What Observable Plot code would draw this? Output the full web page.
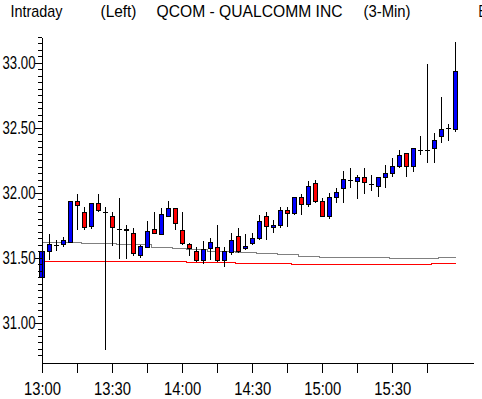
<!DOCTYPE html>
<html>
<head>
<meta charset="utf-8">
<script src="https://cdn.jsdelivr.net/npm/d3@7"></script>
<script src="https://cdn.jsdelivr.net/npm/@observablehq/plot@0.6"></script>
<style>
  html, body { margin: 0; padding: 0; background: #fff; }
  #chart svg { display: block; shape-rendering: crispEdges; }
</style>
</head>
<body>
<div id="chart"></div>
<script>
// ---- data ----
const barTimes = [
  "13:00","13:03","13:06","13:09","13:12","13:15","13:18","13:21","13:24","13:27",
  "13:30","13:33","13:36","13:39","13:42","13:45","13:48","13:51","13:54","13:57",
  "14:00","14:03","14:06","14:09","14:12","14:15","14:18","14:21","14:24","14:27",
  "14:30","14:33","14:36","14:39","14:42","14:45","14:48","14:51","14:54","14:57",
  "15:00","15:03","15:06","15:09","15:12","15:15","15:18","15:21","15:24","15:27",
  "15:30","15:33","15:36","15:39","15:42","15:45","15:48","15:51","15:54","15:57"
];
const opens = [
  31.35,31.55,31.60,31.60,31.62,31.93,31.85,31.74,31.92,31.85,
  31.82,31.72,31.72,31.69,31.52,31.58,31.72,31.68,31.82,31.88,
  31.71,31.60,31.55,31.48,31.57,31.58,31.48,31.54,31.66,31.57,
  31.61,31.65,31.82,31.73,31.75,31.86,31.84,31.96,31.91,32.07,
  31.93,31.82,31.96,32.03,32.10,32.09,32.12,32.07,32.05,32.12,
  32.15,32.20,32.30,32.20,32.33,32.33,32.34,32.43,32.50,32.49
];
const highs = [
  31.59,31.68,31.64,31.66,31.93,31.99,31.89,31.92,31.99,31.89,
  31.85,31.96,31.75,31.73,31.60,31.78,31.85,31.88,31.94,31.88,
  31.85,31.61,31.58,31.63,31.65,31.75,31.58,31.69,31.73,31.68,
  31.69,31.83,31.85,31.79,31.89,31.89,31.97,31.99,32.09,32.10,
  31.96,32.00,32.04,32.17,32.19,32.14,32.19,32.14,32.12,32.21,
  32.27,32.33,32.30,32.34,32.44,32.99,32.46,32.74,32.53,33.16
];
const lows = [
  31.35,31.48,31.55,31.58,31.61,31.71,31.71,31.72,31.85,30.79,
  31.59,31.49,31.49,31.51,31.50,31.58,31.68,31.68,31.81,31.71,
  31.60,31.51,31.47,31.45,31.48,31.47,31.43,31.52,31.54,31.56,
  31.60,31.64,31.64,31.69,31.73,31.74,31.83,31.83,31.89,31.92,
  31.81,31.80,31.92,31.92,32.04,31.95,31.99,32.01,31.97,32.04,
  32.12,32.19,32.12,32.16,32.29,32.23,32.23,32.38,32.40,32.47
];
const closes = [
  31.55,31.60,31.60,31.63,31.93,31.90,31.73,31.92,31.86,31.85,
  31.73,31.72,31.71,31.53,31.59,31.70,31.69,31.83,31.88,31.76,
  31.61,31.57,31.48,31.56,31.62,31.48,31.55,31.63,31.55,31.59,
  31.65,31.78,31.74,31.75,31.86,31.84,31.96,31.91,32.05,31.93,
  31.82,31.96,32.00,32.10,32.10,32.12,32.08,32.07,32.12,32.15,
  32.20,32.29,32.20,32.34,32.33,32.33,32.40,32.49,32.50,32.93
];
const grayLine = [
  31.623,31.623,31.623,31.623,31.623,31.623,31.615,31.615,31.615,31.615,
  31.615,31.604,31.604,31.604,31.604,31.604,31.585,31.585,31.585,31.577,
  31.577,31.569,31.569,31.569,31.554,31.554,31.554,31.554,31.546,31.546,
  31.546,31.538,31.538,31.538,31.531,31.531,31.531,31.515,31.515,31.515,
  31.508,31.508,31.508,31.508,31.508,31.508,31.508,31.508,31.508,31.508,
  31.500,31.500,31.500,31.500,31.500,31.500,31.500,31.508,31.508,31.508
];
const redLine = [
  31.477,31.477,31.477,31.477,31.477,31.477,31.477,31.477,31.477,31.477,
  31.477,31.477,31.477,31.477,31.477,31.477,31.477,31.477,31.477,31.477,
  31.477,31.469,31.469,31.469,31.469,31.469,31.469,31.469,31.462,31.462,
  31.462,31.462,31.462,31.462,31.462,31.462,31.454,31.454,31.454,31.454,
  31.454,31.454,31.454,31.454,31.454,31.454,31.454,31.454,31.454,31.454,
  31.454,31.454,31.454,31.454,31.454,31.454,31.462,31.462,31.462,31.462
];
const xTickTimes = ["13:00","13:15","13:30","13:45","14:00","14:15","14:30","14:45","15:00","15:15","15:30","15:45"];
const xTickLabels = ["13:00","13:30","14:00","14:30","15:00","15:30"];
const yTickValues = [31.00, 31.50, 32.00, 32.50, 33.00];
const yTickLabels = ["31.00","31.50","32.00","32.50","33.00"];
const titleParts = ["Intraday", "(Left)", "QCOM - QUALCOMM INC", "(3-Min)", "B"];
const xDomainTimes = ["13:00", "16:05"];
const yDomain = [30.69, 33.19];

// ---- helpers ----
const toMin = s => { const [h, m] = s.split(":").map(Number); return h * 60 + m; };
const bars = barTimes.map((t, i) => ({
  t: toMin(t), open: opens[i], high: highs[i], low: lows[i], close: closes[i],
  gray: grayLine[i], red: redLine[i]
}));
const bodies = bars.filter(d => d.open !== d.close);
const dojis = bars.filter(d => d.open === d.close);
const xDomain = xDomainTimes.map(toMin);
const minorY = d3.range(Math.round(yDomain[0] * 20) + 1, Math.round(yDomain[1] * 20) + 1).map(k => k / 20);
const labelMins = xTickLabels.map(toMin);
const fontFamily = "'Liberation Sans', Arial, sans-serif";

const titleMark = (text, dx) => Plot.text([text], {
  frameAnchor: "top-left", dx, dy: -34, textAnchor: "start", lineAnchor: "top",
  fontSize: 17, fill: "black"
});

const chart = Plot.plot({
  width: 482,
  height: 399,
  marginLeft: 42,
  marginRight: 8,
  marginTop: 38,
  marginBottom: 36,
  style: { fontFamily, fontSize: "17px", background: "white", color: "black", overflow: "hidden" },
  x: { type: "linear", domain: xDomain, axis: null },
  y: { type: "linear", domain: yDomain, axis: null },
  marks: [
    Plot.line(bars, { x: "t", y: "gray", stroke: "#808080", strokeWidth: 1, curve: "step" }),
    Plot.line(bars, { x: "t", y: "red", stroke: "#ff0000", strokeWidth: 1, curve: "step" }),
    Plot.ruleX(bars, { x: "t", y1: "low", y2: "high", stroke: "black", strokeWidth: 1 }),
    Plot.rect(bodies, {
      x1: d => d.t - 1.5, x2: d => d.t + 1.5, y1: "open", y2: "close",
      insetLeft: 1.5, insetRight: 1.5,
      fill: d => d.close > d.open ? "#0000ff" : "#ff0000",
      stroke: "black", strokeWidth: 1
    }),
    Plot.ruleY(dojis, { y: "close", x1: d => d.t - 1.5, x2: d => d.t + 1.5, insetLeft: 1, insetRight: 1, stroke: "black", strokeWidth: 1 }),
    Plot.ruleX([xDomain[0]], { stroke: "black" }),
    Plot.ruleY([yDomain[0]], { stroke: "black" }),
    Plot.axisY(minorY, { anchor: "left", tickSize: 4, tickFormat: () => "", stroke: "black", label: null }),
    Plot.axisY(yTickValues, { anchor: "left", tickSize: 7, tickFormat: () => "", stroke: "black", label: null }),
    Plot.axisY(yTickValues, { anchor: "left", tickSize: 0, tickPadding: 7, fontSize: 18, label: null,
      tickFormat: d => yTickLabels[yTickValues.indexOf(d)], fill: "black" }),
    Plot.axisX(xTickTimes.map(toMin), { anchor: "bottom", tickSize: 10, tickFormat: () => "", stroke: "black", label: null }),
    Plot.axisX(labelMins, { anchor: "bottom", tickSize: 0, tickPadding: 19, fontSize: 18, label: null,
      tickFormat: d => xTickLabels[labelMins.indexOf(d)], fill: "black" }),
    titleMark(titleParts[0], -32),
    titleMark(titleParts[1], 58),
    titleMark(titleParts[2], 114),
    titleMark(titleParts[3], 321),
    titleMark(titleParts[4], 436)
  ]
});
document.getElementById("chart").appendChild(chart);

// fit each text to the width the reference gives it (narrow bitmap-like font)
const fitWidths = new Map([
  ["Intraday", 52], ["(Left)", 36], ["QCOM - QUALCOMM INC", 186], ["(3-Min)", 47], ["B", 8]
]);
d3.select(chart).selectAll("text").each(function () {
  const s = this.textContent;
  let w = fitWidths.get(s);
  if (w === undefined && yTickLabels.includes(s)) w = 33;
  if (w === undefined && xTickLabels.includes(s)) w = 37;
  if (w !== undefined) {
    this.setAttribute("textLength", w);
    this.setAttribute("lengthAdjust", "spacingAndGlyphs");
  }
});
</script>
</body>
</html>
